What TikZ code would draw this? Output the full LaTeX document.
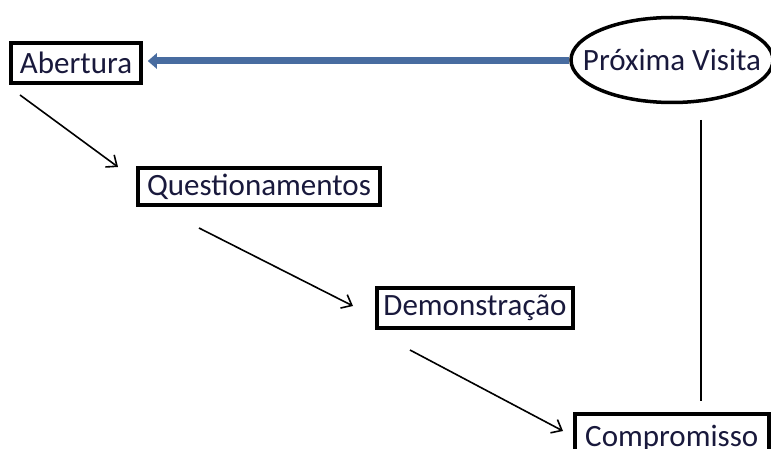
\documentclass[tikz,border=0pt]{standalone}
\usepackage{fontspec}
\setmainfont{Carlito}
\usetikzlibrary{arrows.meta,shapes.geometric}
\definecolor{txt}{RGB}{25,25,60}
\definecolor{bluearrow}{RGB}{72,108,160}
\tikzset{
  stepbox/.style={draw=black,line width=3.5pt,fill=white,inner sep=2pt,
    text=txt,font=\fontsize{31}{37}\selectfont},
  ovalbox/.style={ellipse,draw=black,line width=3.5pt,fill=white,inner xsep=-40pt,inner ysep=0pt,
    text=txt,font=\fontsize{31}{37}\selectfont},
  flow/.style={line width=1.6pt,-{Straight Barb[length=9pt,width=15pt,line width=1.6pt]}},
  back/.style={line width=7pt,color=bluearrow,-{Triangle[length=9pt,width=15pt]}},
}
\begin{document}
\begin{tikzpicture}[x=1pt,y=-1pt]
\useasboundingbox[fill=white] (0,0) rectangle (771,449);
\node[stepbox,minimum width=130pt,minimum height=40pt] (a) at (76,63) {Abertura};
\node[stepbox,minimum width=242pt,minimum height=37pt] (q) at (259,186.5) {Questionamentos};
\node[stepbox,minimum width=196pt,minimum height=40pt] (d) at (475,308) {Demonstração};
\node[stepbox,minimum width=194pt,minimum height=50pt,anchor=north west] (c) at (573,412) {Compromisso};
\node[ovalbox,minimum width=202pt,minimum height=85pt] (pv) at (672,60) {Próxima Visita};
\coordinate (a1) at (20,95);
\coordinate (q1) at (118,167);
\coordinate (q2) at (199,228);
\coordinate (d1) at (353,306);
\coordinate (d2) at (410,350);
\coordinate (c1) at (563,431);
\coordinate (pv1) at (701,120);
\coordinate (c2) at (701,401);
\draw[back] (pv.west |- 0,61) -- ([xshift=5pt]a.east |- 0,61);
\draw[flow] (a1) -- (q1);
\draw[flow] (q2) -- (d1);
\draw[flow] (d2) -- (c1);
\draw[line width=1.6pt] (pv1) -- (c2);
\end{tikzpicture}
\end{document}
